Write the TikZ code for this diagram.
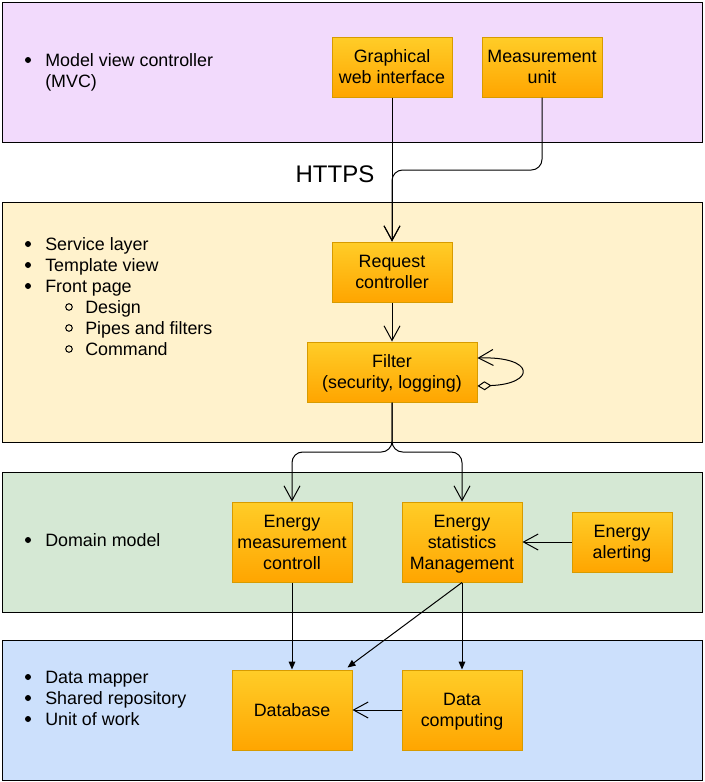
\documentclass[tikz,border=0pt]{standalone}
\usepackage{fontspec}
\setmainfont{Liberation Sans}
\usetikzlibrary{arrows.meta,calc}

\definecolor{mvcfill}{RGB}{242,218,252}
\definecolor{svcfill}{RGB}{255,242,204}
\definecolor{domfill}{RGB}{213,232,212}
\definecolor{datafill}{RGB}{204,224,252}
\definecolor{boxtop}{RGB}{255,205,40}
\definecolor{boxbottom}{RGB}{255,165,0}
\definecolor{boxline}{RGB}{215,155,0}

\tikzset{
  layer/.style={draw=black, line width=0.75pt},
  box/.style={draw=boxline, line width=0.75pt, top color=boxtop, bottom color=boxbottom,
    align=center, inner sep=0pt, text depth=-2.2pt, minimum width=90pt, minimum height=45pt,
    font=\fontsize{13.4}{15.75}\selectfont},
  item/.style={anchor=base west, inner sep=0pt, align=left, font=\fontsize{13.4}{15.7}\selectfont},
  conn/.style={line width=0.75pt, -{Straight Barb[length=11pt,width=12pt]}},
  link/.style={line width=0.75pt, -{Triangle[length=6pt,width=5pt]}},
}

\begin{document}
\begin{tikzpicture}[x=0.75pt,y=0.75pt,yscale=-1,xscale=1]
\useasboundingbox (0,0) rectangle (704,782);

% layers
\draw[layer, fill=mvcfill] (2,2) rectangle (702,142);
\draw[layer, fill=svcfill] (2,202) rectangle (702,442);
\draw[layer, fill=domfill] (2,472) rectangle (702,612);
\draw[layer, fill=datafill] (2,640) rectangle (702,780);

% MVC layer
\fill (28,60) circle (3);
\node[item] (mvc) at (45,87) {Model view controller\\(MVC)};
\node[box] (gwi) at (392,67) {Graphical\\web interface};
\node[box] (mu) at (542,67) {Measurement\\unit};

\node[font=\fontsize{18}{21}\selectfont] (https) at (335,174) {HTTPS};

% Service layer
\fill (28,244) circle (3);
\node[item] (svc1) at (45,250) {Service layer};
\fill (28,265) circle (3);
\node[item] (svc2) at (45,271) {Template view};
\fill (28,286) circle (3);
\node[item] (svc3) at (45,292) {Front page};
\draw[line width=0.75pt] (69,307) circle (3.3);
\node[item] (svc4) at (85,313) {Design};
\draw[line width=0.75pt] (69,328) circle (3.3);
\node[item] (svc5) at (85,334) {Pipes and filters};
\draw[line width=0.75pt] (69,349) circle (3.3);
\node[item] (svc6) at (85,355) {Command};

\node[box] (req) at (392,272) {Request\\controller};
\node[box, minimum width=127.5pt] (filt) at (392,372) {Filter\\(security, logging)};

% Domain layer
\fill (28,540) circle (3);
\node[item] (dom) at (45,546) {Domain model};
\node[box, minimum height=60pt] (emc) at (292,542) {Energy\\measurement\\controll};
\node[box, minimum height=60pt] (esm) at (462,542) {Energy\\statistics\\Management};
\node[box, minimum width=75pt] (ea) at (622,542) {Energy\\alerting};

% Data layer
\fill (28,677) circle (3);
\node[item] (dat1) at (45,683) {Data mapper};
\fill (28,698) circle (3);
\node[item] (dat2) at (45,704) {Shared repository};
\fill (28,719) circle (3);
\node[item] (dat3) at (45,725) {Unit of work};
\node[box, minimum height=60pt] (db) at (292,710) {Database};
\node[box, minimum height=60pt] (dc) at (462,710) {Data\\computing};

% HTTPS links
\coordinate (httpsbend) at (392,170);
\draw[conn] (gwi.south) -- (req.north);
\draw[conn, rounded corners=8] (mu.south) |- (httpsbend) -- (req.north);

% service links
\draw[conn] (req.south) -- (filt.north);
\draw[line width=0.75pt, {Diamond[open,length=10.5pt,width=6.75pt]}-{Straight Barb[length=11pt,width=12pt]}]
  ($(filt.east)+(0,14)$) .. controls (536,384) and (536,356) .. ($(filt.east)+(0,-14)$);

% Link between layers
\coordinate (split) at (392,452);
\draw[conn, rounded corners=8] (filt.south) -- (split) -| (emc.north);
\draw[conn, rounded corners=8] (filt.south) -- (split) -| (esm.north);

% domain links
\draw[conn] (ea.west) -- (esm.east);
\draw[link] (emc.south) -- (db.north);
\draw[link] (esm.south) -- ($(db.north east)+(-5,-2)$);
\draw[link] (esm.south) -- (dc.north);
\draw[conn] (dc.west) -- (db.east);

\end{tikzpicture}
\end{document}
